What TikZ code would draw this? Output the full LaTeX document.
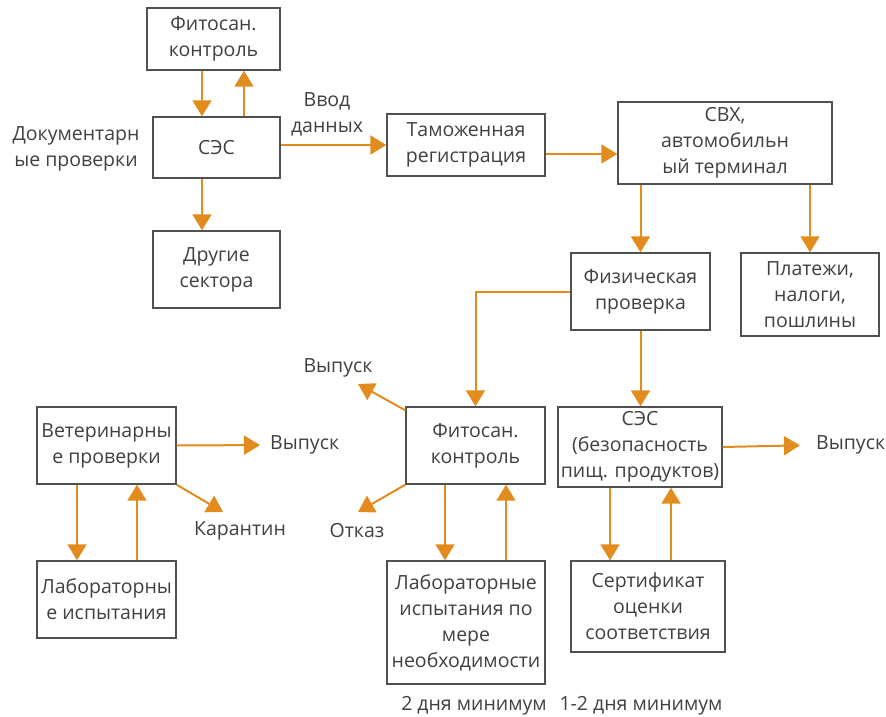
\documentclass[tikz,border=0pt]{standalone}
\usepackage{fontspec}
\setmainfont{Open Sans}
\usetikzlibrary{arrows.meta}
\definecolor{org}{RGB}{226,140,30}
\definecolor{txt}{RGB}{64,64,64}
\definecolor{brd}{RGB}{80,80,80}
\begin{document}
\begin{tikzpicture}[x=1pt,y=-1pt,
  font=\fontsize{19.5}{26}\selectfont, text=txt,
  box/.style={draw=brd, line width=1.4pt, align=center, inner sep=1pt, minimum width=#1},
  lbl/.style={align=center, inner sep=0pt},
  arr/.style={draw=org, line width=2pt, -{Triangle[length=16pt,width=19pt]}}]
\useasboundingbox (0,0) rectangle (886,717);
% boxes
\node[box=133pt, minimum height=62pt] (fito1) at (213.5,39) {Фитосан.\\контроль};
\node[box=127pt, minimum height=61pt] (ses1) at (216.5,147.5) {СЭС};
\node[box=127pt, minimum height=77pt] (drug) at (216.5,269.5) {Другие\\сектора};
\node[box=158pt, minimum height=62pt] (tam) at (466,145) {Таможенная\\регистрация};
\node[box=214pt, minimum height=82pt] (svx) at (725,143) {СВХ,\\автомобильн\\ый терминал};
\node[box=139pt, minimum height=77pt] (fiz) at (640.5,291.5) {Физическая\\проверка};
\node[box=138pt, minimum height=83pt] (plat) at (810,294.5) {Платежи,\\налоги,\\пошлины};
\node[box=139pt, minimum height=77pt] (vet) at (106.5,445.5) {Ветеринарны\\е проверки};
\node[box=139pt, minimum height=77pt] (labl) at (106.5,599.5) {Лабораторны\\е испытания};
\node[box=139pt, minimum height=77pt] (fito2) at (475.5,445.5) {Фитосан.\\контроль};
\node[box=164pt, minimum height=80pt] (ses2) at (640,447) {СЭС\\(безопасность\\пищ. продуктов)};
\node[box=158pt, minimum height=123pt] (labm) at (466,622.5) {Лабораторные\\испытания по\\мере\\необходимости};
\node[box=154pt, minimum height=91pt] (sert) at (648,606.5) {Сертификат\\оценки\\соответствия};
% labels
\node[lbl] (doc) at (76,149) {Документарн\\ые проверки};
\node[lbl] (vvod) at (327,114) {Ввод\\данных};
\node[lbl, anchor=west] (vyp1) at (270,445) {Выпуск};
\node[lbl] (kar) at (240,531) {Карантин};
\node[lbl] (vyp2) at (338,368) {Выпуск};
\node[lbl] (otk) at (357,531) {Отказ};
\node[lbl, anchor=west] (vyp3) at (816,445) {Выпуск};
\node[lbl] (d2) at (474,706) {2 дня минимум};
\node[lbl] (d12) at (641,706) {1-2 дня минимум};
% column / row coordinates
\coordinate (c202) at (202,0);
\coordinate (c244) at (244,0);
\coordinate (r154) at (0,154);
\coordinate (c77) at (77,0);
\coordinate (c137) at (137,0);
\coordinate (c445) at (445,0);
\coordinate (c506) at (506,0);
\coordinate (c610) at (610,0);
\coordinate (c671) at (671,0);
\coordinate (tkar) at (223,512);
\coordinate (tvyp2) at (358,384);
\coordinate (totk) at (358,512);
% connectors
\draw[arr] (fito1.south -| c202) -- (ses1.north -| c202);
\draw[arr] (ses1.north -| c244) -- (fito1.south -| c244);
\draw[arr] (ses1.south -| c202) -- (drug.north -| c202);
\draw[arr] (ses1.east |- tam.west) -- (tam.west);
\draw[arr] (tam.east |- r154) -- (svx.west |- r154);
\draw[arr] (svx.south -| fiz.north) -- (fiz.north);
\draw[arr] (svx.south -| plat.north) -- (plat.north);
\draw[arr] (fiz.west) -| (fito2.north);
\draw[arr] (fiz.south) -- (ses2.north -| fiz.south);
\draw[arr, shorten >=10pt] (vet.east) -- (vyp1.west);
\draw[arr] (vet.south east) -- (tkar);
\draw[arr] (vet.south -| c77) -- (labl.north -| c77);
\draw[arr] (labl.north -| c137) -- (vet.south -| c137);
\draw[arr] ([yshift=-4pt]fito2.north west) -- (tvyp2);
\draw[arr] (fito2.south west) -- (totk);
\draw[arr] (fito2.south -| c445) -- (labm.north -| c445);
\draw[arr] (labm.north -| c506) -- (fito2.south -| c506);
\draw[arr] (ses2.south -| c610) -- (sert.north -| c610);
\draw[arr] (sert.north -| c671) -- (ses2.south -| c671);
\draw[arr, shorten >=16pt] (ses2.east) -- (vyp3.west);
\end{tikzpicture}
\end{document}
